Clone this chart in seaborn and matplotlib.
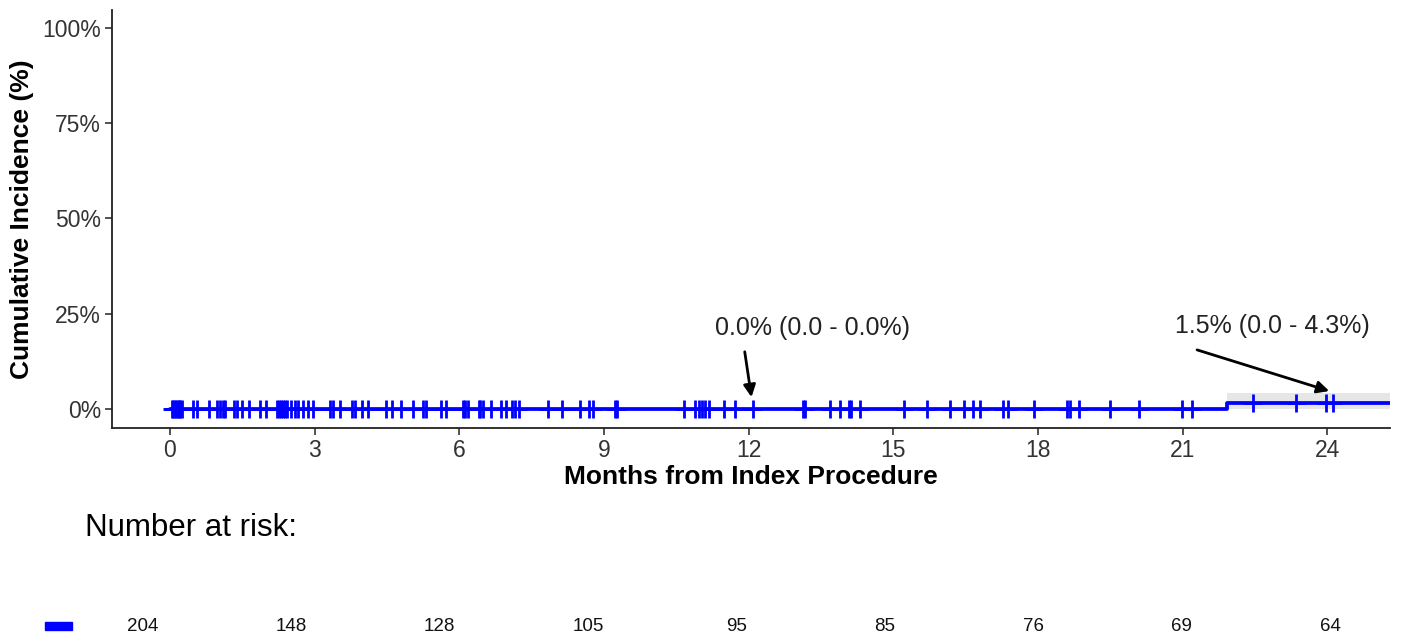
import numpy as np
import pandas as pd
import matplotlib
matplotlib.use("Agg")
import matplotlib.pyplot as plt
import seaborn as sns

# ---- data ----
curve_time = [0.0, 21.93, 25.3]
curve_inc = [0.0, 1.5, 1.5]
band_time = [21.93, 25.3]
band_low = [0.0, 0.0]
band_high = [4.3, 4.3]
censor_times = [0.04, 0.07, 0.10, 0.13, 0.16, 0.19, 0.22, 0.25, 0.48, 0.57, 0.82, 0.97, 1.04, 1.10, 1.15,
                1.33, 1.40, 1.49, 1.64, 1.87, 1.99, 2.22, 2.26, 2.30, 2.34, 2.38, 2.42, 2.52, 2.59, 2.66,
                2.76, 2.87, 2.97, 3.32, 3.38, 3.52, 3.77, 3.83, 3.99, 4.11, 4.49, 4.61, 4.80,
                5.04, 5.25, 5.32, 5.62, 5.73, 6.08, 6.13, 6.19, 6.40, 6.44, 6.49, 6.65, 6.86, 6.96,
                7.10, 7.16, 7.23, 7.85, 8.13, 8.51, 8.70, 8.77, 9.23, 9.27,
                10.67, 10.88, 10.98, 11.04, 11.09, 11.18, 11.50, 11.71, 12.10, 13.12, 13.16, 13.69,
                13.89, 14.08, 14.12, 14.31, 15.23, 15.70, 16.17, 16.46, 16.66, 16.79, 17.27, 17.37,
                17.91, 18.61, 18.66, 18.86, 19.50, 20.10, 20.99, 21.19, 22.45, 23.35, 23.97, 24.12]
xticks = [0, 3, 6, 9, 12, 15, 18, 21, 24]
yticks = [0, 25, 50, 75, 100]
ytick_labels = ["0%", "25%", "50%", "75%", "100%"]
risk_times = [0, 3, 6, 9, 12, 15, 18, 21, 24]
risk_counts = [204, 148, 128, 105, 95, 85, 76, 69, 64]
annot_labels = ["0.0% (0.0 - 0.0%)", "1.5% (0.0 - 4.3%)"]
annot_text_pos = [(13.33, 21.3), (22.86, 21.8)]
annot_tail = [(11.92, 15.0), (21.3, 15.5)]
annot_head = [(12.06, 3.1), (24.04, 4.7)]

sns.set_theme(style="white")
plt.rcParams['font.family'] = ['Liberation Sans', 'DejaVu Sans']

W, H = 1401, 641
fig = plt.figure(figsize=(W / 100, H / 100), dpi=100)
ax = fig.add_axes([112 / W, 1 - 428 / H, (1390 - 112) / W, (428 - 10) / H])

blue = "#0000FF"
ax.fill_between(band_time, band_low, band_high, step="post", color="#E6E6E6", linewidth=0, zorder=1)

df = pd.DataFrame({"t": curve_time, "inc": curve_inc})
sns.lineplot(data=df, x="t", y="inc", drawstyle="steps-post", color=blue, linewidth=2.7,
             estimator=None, ax=ax, zorder=3)

ct = np.array(censor_times)
cy = np.array([curve_inc[np.searchsorted(curve_time, t, side="right") - 1] for t in ct])
cdf = pd.DataFrame({"t": ct, "inc": cy})
sns.scatterplot(data=cdf, x="t", y="inc", marker="+", s=170, color=blue, linewidth=2.0, ax=ax, zorder=4)

for lab, tp, tail, head in zip(annot_labels, annot_text_pos, annot_tail, annot_head):
    ax.text(tp[0], tp[1], lab, ha="center", va="center", fontsize=18, color="#222222")
    ax.annotate("", xy=head, xytext=tail,
                arrowprops=dict(arrowstyle="-|>", color="black", lw=2, mutation_scale=18,
                                shrinkA=0, shrinkB=0))

ax.set_xlim(-1.2, 25.3)
ax.set_ylim(-5, 104.7)
ax.set_xticks(xticks)
ax.set_yticks(yticks)
ax.set_yticklabels(ytick_labels)
ax.tick_params(axis="both", labelsize=16.5, colors="#333333", length=5, width=1.2, direction="out",
               bottom=True, left=True, pad=3)
ax.tick_params(axis="both", labelcolor="#333333")
for s in ["top", "right"]:
    ax.spines[s].set_visible(False)
for s in ["left", "bottom"]:
    ax.spines[s].set_color("#222222")
    ax.spines[s].set_linewidth(1.3)
ax.set_xlabel("Months from Index Procedure", fontsize=19, fontweight="bold", color="black", labelpad=2)
ax.set_ylabel("Cumulative Incidence (%)", fontsize=19, fontweight="bold", color="black", labelpad=6)

# risk table
fig.text(85 / W, 1 - 528 / H, "Number at risk:", fontsize=22.5, va="center", ha="left", color="black")
ax2 = fig.add_axes([0, 0, 1, 1 - 600 / H], zorder=-1)
ax2.set_xlim(-143 / 49.46, (W - 143) / 49.46)
ax2.set_ylim(0, 1)
ax2.axis("off")
for t, n in zip(risk_times, risk_counts):
    ax2.text(t, 0.36, str(n), ha="center", va="center", fontsize=13.5, color="#111111")
fig.patches.append(plt.Rectangle((45 / W, 1 - 630 / H), 27 / W, 8 / H, transform=fig.transFigure,
                                 color=blue, figure=fig))

fig.savefig("out.png", dpi=100)
